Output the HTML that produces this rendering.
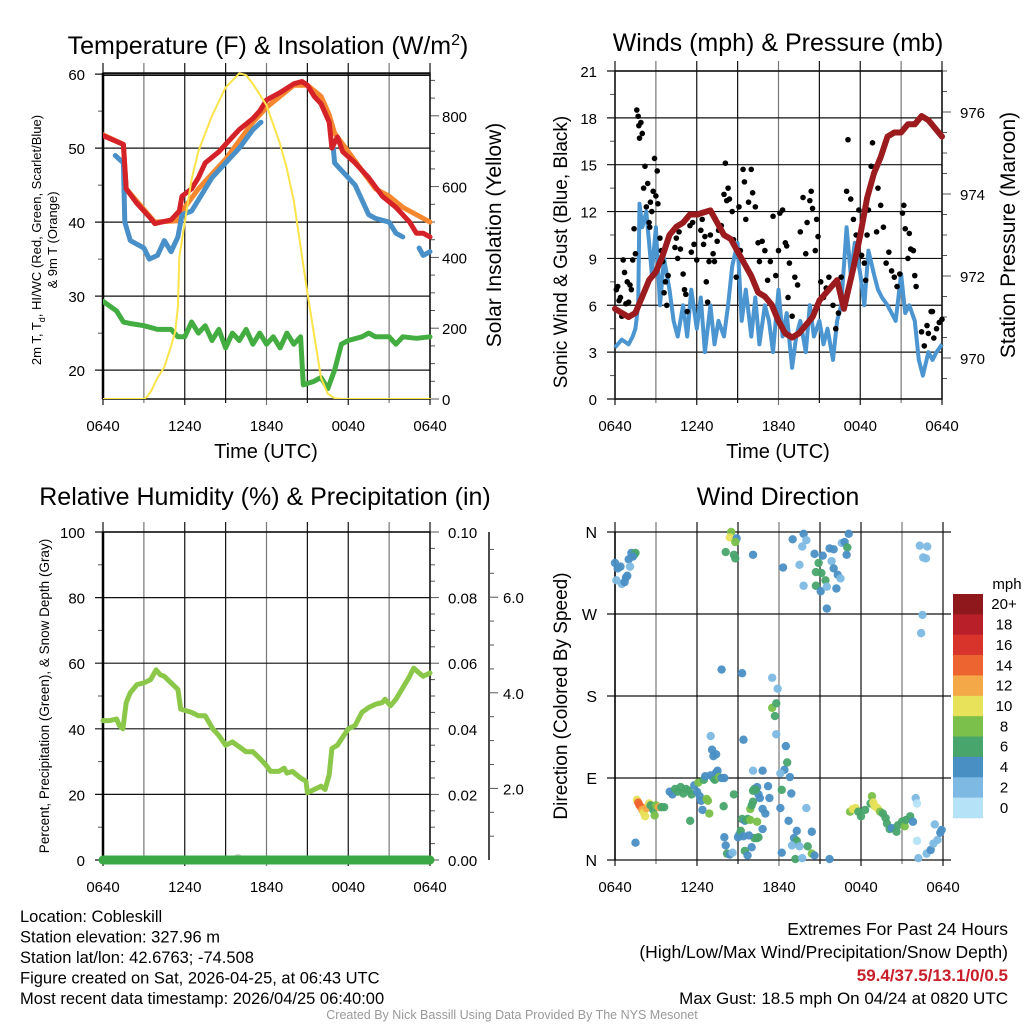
<!DOCTYPE html>
<html><head><meta charset="utf-8"><style>
html,body{margin:0;padding:0;background:#fff}
svg{display:block;font-family:"Liberation Sans",sans-serif}
</style></head><body>
<svg id="c" width="1024" height="1024" viewBox="0 0 1024 1024"></svg>
<script>
// ---------- DATA ----------
const xTickLabels = ["0640","1240","1840","0040","0640"];
const tempHours = [0,1.5,1.7,2.5,3.5,3.8,5,5.6,5.8,6.5,7,7.5,8.5,9.5,10,11,11.5,12,13,14,14.6,15,15.5,16,16.6,16.8,17.2,17.6,18.5,19.5,20.5,21.5,22.5,23,23.5,24];
const redTemp = [51.7,50.5,44.5,42.5,40.5,39.8,40.3,41.5,43.5,44.5,46,48,49.5,51.5,52.5,54,55,56.5,57.5,58.7,59,58.5,57,56,53.5,50,51.5,49.5,48,46,43.5,42,40,38.5,38.5,38];
const orangeHours = [0,1.5,1.7,3.8,5.5,6,7,8,9,10,11,12,13,14,15,16,16.6,17,18,19,20,21,22,23,24];
const orangeTemp = [51.8,50.5,44.5,40,40.2,42,44.5,46.5,48.5,51,53.5,55.5,57,58.5,58.5,57,54.5,52,49.5,47,44.5,43.5,42,41,40];
const blueHours = [0.9,1.5,1.6,2,3,3.4,4,4.5,5,5.5,5.8,6.5,7,8,9,10,11,11.6,11.7,16.9,17,17.5,18.5,19.5,20,21,21.5,22,22.1,23.2,23.5,24];
const blueTemp = [49,48,40,37.5,36.5,35,35.5,37.5,36,38,41,41.5,43,46,48,50,52.5,53.5,null,50,48,47,45,41,40.5,40,38.5,38,null,36.5,35.5,36];
const dewHours = [0,1,1.5,2,3,4,5,5.5,6,6.5,7,7.5,8,8.5,9,9.5,10,10.5,11,11.5,12,12.5,13,13.5,14,14.5,14.7,15.5,16,16.5,17,17.5,18,19,19.5,20,21,21.5,22,23,24];
const dewPoint = [29.3,28,26.5,26.3,26,25.5,25.5,24.5,24.5,26.5,25,26,24,25.5,23,25,24,25.5,23.5,25,23.5,24.5,23,25,23.5,24.5,18,18.5,19,17.5,20,23.5,24,24.5,25,24.5,24.5,23.5,24.5,24.3,24.5];
const solarHours = [0,3,3.2,3.5,4,4.5,5,5.3,5.5,5.6,6,6.5,7,8,9,10,10.5,11,12,13,13.5,14,14.5,15,15.5,16,16.5,17,17.5,24];
const solarRad = [0,0,5,20,60,90,150,190,260,400,500,620,700,800,880,920,915,890,830,720,650,560,430,300,180,60,15,2,0,0];
const presHours = [0,0.5,1,1.5,2,2.5,3,3.5,4,4.5,5,5.5,6,7,7.5,8,8.5,9,9.5,10,10.5,11,11.5,12,12.5,13,13.5,14,14.5,15,16.3,16.8,17.5,18,18.5,19,19.5,20,20.5,21,21.5,22,22.5,23,23.5,24];
const pressure = [971.2,971.1,971.0,971.1,971.5,971.9,972.1,972.5,973.0,973.2,973.3,973.5,973.5,973.6,973.3,973.0,972.9,972.6,972.3,972.0,971.6,971.5,971.3,970.9,970.6,970.5,970.6,970.8,971.0,971.4,971.9,971.2,972.2,973.0,973.9,974.5,974.9,975.4,975.5,975.5,975.7,975.7,975.9,975.8,975.6,975.4];
const windHours = [0,0.5,1,1.3,1.5,1.7,1.8,2,2.3,2.5,2.7,3,3.3,3.6,4,4.3,4.6,5,5.3,5.6,6,6.3,6.6,7,7.3,7.6,8,8.3,8.6,9,9.3,9.6,10,10.3,10.6,11,11.3,11.6,12,12.3,12.6,13,13.3,13.6,14,14.3,14.6,15,15.3,15.6,16,16.3,16.6,17,17.3,17.6,18,18.3,18.6,19,19.3,19.6,20,20.3,20.6,21,21.3,21.6,22,22.3,22.6,23,23.3,23.6,24];
const windSpeed = [3.3,3.8,3.5,4,4.5,6,12.5,11,12,10,8,11,6,9,7,5,4,6,4,7,4.5,6.5,3,6,3.5,5,4,6,8.5,10,5,7,4,6.5,3.5,6,5,3,7,4,5.5,2,4,5,3,6,4,5,3.5,4.5,2.5,5,6,11,8,10,8,6,9.5,8,7,6.5,6,5.5,5,8,5.5,6,5,2.5,1.5,3,2.5,3,3.5];
const gustHours = [0.1,0.2,0.3,0.4,0.5,0.6,0.7,0.8,0.9,1.0,1.1,1.2,1.3,1.4,1.5,1.6,1.7,1.75,1.8,1.9,2.0,2.2,2.1,2.3,2.4,2.5,2.55,2.6,2.7,2.8,2.9,3.0,3.1,3.15,3.3,3.4,3.5,3.6,3.7,3.8,3.9,4.4,4.5,4.6,4.7,4.8,5.0,5.1,5.2,5.3,5.5,5.6,5.7,5.8,6.0,6.1,6.3,6.4,6.5,6.6,6.7,6.8,6.9,7.0,7.2,7.3,7.5,7.6,7.8,8.0,8.1,8.2,8.3,8.4,8.6,8.7,8.9,9.1,9.2,9.4,9.5,9.6,9.8,10.0,10.1,10.3,10.5,10.6,10.8,11.0,11.2,11.4,11.6,11.8,12.0,12.1,12.3,12.5,12.6,12.7,12.8,13.0,13.2,13.4,13.6,13.8,14.0,14.1,14.3,14.4,14.5,14.7,14.8,14.9,15.1,15.3,15.5,15.7,16.0,16.2,16.4,16.6,17.0,17.1,17.3,17.5,17.7,17.9,18.1,18.3,18.4,18.5,18.6,18.8,18.9,19.2,19.3,19.5,19.7,19.9,20.1,20.3,20.5,20.7,20.9,21.1,21.2,21.3,21.5,21.6,21.7,21.9,22.0,22.1,22.5,22.7,22.9,23.0,23.2,23.3,23.4,23.6,23.8,24.0];
const gustSpeed = [7,7.2,6.3,6.5,5.3,8.9,8.1,6.1,7.5,6.2,7.3,7,8.9,10.9,9.3,18.5,18.1,17.5,16.7,17.7,17,14.9,13.5,12.3,13.8,11.3,11,12.6,12,13.3,15.4,13,14.6,12.5,10.3,9.5,8.8,6.8,7.5,6,7.9,9.7,10.3,9,10.7,9.6,8,7,6.7,5.6,11.1,9.4,11.3,9.9,8.9,11.8,10.8,11.5,9.9,10.4,7.5,6.2,8.8,10.5,9.3,8.8,10.1,10.8,11.1,13.1,15.1,12.7,13.5,12.8,12,10.2,7.8,12.3,9.5,14.7,13.9,11.5,12.6,14.7,13.2,12.3,10,8.8,10.1,9.5,7.6,8.8,11.7,7.9,9.5,11.9,12.1,10,9.8,6.5,8.7,5.3,7.8,7.3,10.7,12.9,9.3,11.3,12.7,13.3,12.2,9.5,11.5,10.4,7.5,6.5,7.1,7.8,6,4.5,5.5,7.8,13.3,16.6,12.8,11.5,10.5,12.1,9.2,8.7,7.6,10.5,12.1,14.9,16.4,10.7,13.5,12.4,11,8.7,9.4,8.2,7.8,7.2,8,11.9,12.4,10.9,9,10.6,9.6,9.5,7.9,7.2,4.3,3.4,4.7,4.2,5.6,5.6,3.9,4.5,4.9,5.1];
const rhHours = [0,0.5,1,1.2,1.46,1.7,2,2.5,3,3.5,3.9,4.2,4.5,5,5.5,5.7,6.5,7,7.5,8.05,8.5,9,9.5,10,10.5,11,11.5,11.95,12.3,12.9,13.3,13.5,13.9,14.5,14.9,15,15.5,16,16.3,16.6,16.8,17.2,17.6,18,18.5,19,19.5,20,20.5,20.7,21.1,21.5,22,22.5,22.8,23.2,23.5,24];
const relHum = [42.5,42.5,43,41,40,48,51,53.5,54,55,58,56.5,56,54,52,46,45,44,44,40,38,35,36,34.5,33,33,31,29,27,27,28,26.5,27,25,24,20.5,21.5,22.5,21.5,26,34,35,37.5,40,41,45,46.5,47.5,48,49,47,49,52.5,56,58.5,57,56,57];
const precipHours = [0,24];
const precip = [0,0];
const snowHours = [9.9];
const snowDepth = [0];
const dirHours = [0,0.2,0.4,0.1,0.5,0.7,0.8,0.9,1.0,1.1,1.2,1.4,1.5,1.3,1.6,1.7,1.8,1.9,2.0,2.1,2.2,2.3,2.5,2.6,2.8,2.9,3.0,3.2,3.4,3.6,1.5,4.0,4.2,4.4,4.6,4.8,5.0,5.2,5.4,5.6,5.5,5.8,6.0,6.1,6.2,6.3,6.5,6.6,6.4,6.7,6.8,6.9,7.0,7.2,7.3,7.4,7.5,7.6,7.8,8.0,7.1,7.2,7.4,7.0,7.8,7.95,8.0,8.1,8.2,8.4,8.6,8.7,9.0,9.1,9.2,9.3,9.5,9.6,9.7,9.9,9.9,10.0,10.1,10.1,10.2,10.4,10.5,10.6,10.8,10.2,10.4,10.0,9.5,9.7,9.4,9.8,9.3,9.4,11.5,11.9,11.5,11.8,11.7,11.8,12.5,12.6,12.4,12.1,12.8,12.2,12.9,12.1,12.7,13.3,13.1,13.3,12.95,13.5,14.1,14.4,14.0,14.4,14.6,13.2,13.7,15.7,12.2,11.2,11.3,11.0,10.8,10.5,10.4,10.3,10.8,10.1,8.5,8.4,8.9,8.8,8.1,8.7,8.8,10.1,12.3,13.0,13.8,14.0,13.7,13.5,13.8,14.6,15.2,14.9,14.7,15.1,15.4,14.7,15.05,15.5,15.5,15.7,16.0,15.85,16.0,16.3,16.5,16.2,16.6,16.8,17.0,16.95,17.1,17.2,17.4,17.6,17.8,18.0,18.3,18.7,18.8,18.9,19.0,19.2,19.4,19.6,19.8,19.9,20.1,20.25,20.6,20.7,21.0,21.2,21.3,21.6,21.8,22.0,22.1,22.1,22.2,22.8,23.1,23.3,23.6,23.8,23.9,23.4,22.3,22.85,22.55,22.75,22.5,22.4];
const dirDeg = [326,320,322,307,303,305,310,312,330,322,337,335,337,333,66,63,60,58,55,52,48,57,62,60,55,49,60,58,58,58,19,75,72,78,75,80,73,78,76,72,43,82,75,85,70,65,88,92,55,67,65,51,93,90,88,96,98,91,90,90,121,114,116,136,209,59,25,16,7,6,8,72,25,28,32,45,43,44,45,44,56,60,64,76,78,80,72,68,56,24,24,14,10,5,26,27,205,132,200,188,167,172,158,138,125,107,99,95,91,77,73,57,43,32,24,21,16,15,15,31,57,7,5,1,2,1,8,81,68,51,34,25,42,77,98,98,360,354,353,349,338,335,331,335,321,352,358,351,344,324,301,336,334,326,316,315,307,301,295,300,276,342,341,328,320,313,309,298,348,349,343,335,358,53,56,57,53,48,55,62,70,63,59,57,53,51,46,40,34,35,31,38,42,37,44,48,42,68,62,21,2,7,11,18,22,30,33,39,345,344,332,331,269,249];
const dirSpeed = [4,4,4,2,2,4,4,4,4,2,4,6,6,4,10,13,13,13,12,10,10,11,10,6,6,7,8,11,6,6,4,4,4,6,6,6,6,6,6,6,6,4,4,8,4,4,6,4,4,8,8,8,4,4,6,4,4,8,4,4,4,4,4,2,4,6,4,4,6,4,2,6,4,4,6,6,4,6,6,8,8,6,6,6,6,4,4,4,4,6,6,4,6,4,4,4,4,4,2,2,8,6,6,2,4,6,4,2,4,6,4,4,4,4,4,6,2,2,6,4,2,8,4,6,2,4,4,4,4,4,4,6,8,6,4,2,8,10,4,8,6,6,6,4,4,4,4,2,2,2,2,4,4,6,6,6,6,6,4,2,4,4,4,2,4,4,2,4,2,4,6,4,4,8,10,10,6,6,6,6,8,10,10,10,8,6,6,6,6,4,6,6,6,8,6,6,4,2,0,0,2,2,4,2,2,4,4,2,2,2,2,2,2,2];
const speedBinLabels = ["20+","18","16","14","12","10","8","6","4","2","0"];
const speedBinColors = ["#8e181c","#b91f29","#d9342b","#ee6430","#f5a847","#e7e25a","#7ac04a","#48a56c","#4a8fc4","#7db9e3","#b5e2f7"];

// ---------- RENDER ----------
const NS="http://www.w3.org/2000/svg";
const svg=document.getElementById('c');
function mk(tag,attrs,parent){const e=document.createElementNS(NS,tag);for(const k in attrs)e.setAttribute(k,attrs[k]);(parent||svg).appendChild(e);return e;}
function txt(s,x,y,size,anchor,extra,parent){const t=mk('text',Object.assign({x:x,y:y,'font-size':size,'text-anchor':anchor||'middle',fill:'#000'},extra||{}),parent);t.textContent=s;return t;}
function pathFrom(hs,vs,fx,fy){let d='',pen=false;for(let i=0;i<hs.length;i++){if(vs[i]===null||vs[i]===undefined){pen=false;continue;}d+=(pen?'L':'M')+fx(hs[i]).toFixed(1)+','+fy(vs[i]).toFixed(1);pen=true;}return d;}

function panel(name,X0,X1,Y0,Y1){
  const g=mk('g',{});
  
  
  const xs=h=>X0+h*(X1-X0)/24;
  for(let i=0;i<=8;i++){const x=xs(i*3);const l=mk('line',{x1:x,x2:x,y1:Y0-10,y2:Y1+(i%2==0?6:4),stroke:(i%3==1?'#777':'#111'),'stroke-width':1.2},g);
    }
  xTickLabels.forEach((s,i)=>{const t=txt(s,xs(i*6),Y1+32,15,'middle',{},g);});
  return {g,xs};
}
function hgrid(g,X0,X1,y){mk('line',{x1:X0-8,x2:X1,y1:y,y2:y,stroke:'#111','stroke-width':1.2},g);}
function rticks(g,X,y,len){mk('line',{x1:X,x2:X+len,y1:y,y2:y,stroke:'#555','stroke-width':1},g);}

// ===== Panel 1 =====
{
 const X0=103,X1=430,Y0=73,Y1=399;
 const {g,xs}=panel('temperature-panel',X0,X1,Y0,Y1);
 const yT=v=>Y1-(v-16.1)*7.4, yS=w=>Y1-w*0.354;
 for(let v=20;v<=60;v+=10){hgrid(g,X0,X1,yT(v));const t=txt(String(v),85,yT(v)+6,15,'end',{},g);}
 for(let v=25;v<=55;v+=10)mk('line',{x1:X0-5,x2:X0,y1:yT(v),y2:yT(v),stroke:'#555'},g);
 mk('line',{x1:X0,x2:X1,y1:75.5,y2:75.5,stroke:'#111'},g);
 for(let w=0;w<=900;w+=50)rticks(g,X1,yS(w),w%200==0?9:5);
 for(let w=0;w<=800;w+=200){const t=txt(String(w),442,yS(w)+6,15,'start',{},g);}
 mk('rect',{x:X0,y:Y0,width:X1-X0,height:Y1-Y0,fill:'none',stroke:'#111','stroke-width':1.5},g);
 mk('line',{x1:X0,x2:X0,y1:Y0,y2:Y1,stroke:'#000','stroke-width':2.5},g);
 const clip=mk('clipPath',{id:'cp1'},g);mk('rect',{x:X0,y:Y0-3,width:X1-X0+3,height:Y1-Y0+3},clip);
 const sg=mk('g',{'clip-path':'url(#cp1)'},g);
 const series=[[dewHours,dewPoint,'#44ad41','dewpoint-line',yT,5],[orangeHours,orangeTemp,'#f5872f','9m-temp-line',yT,5],[blueHours,blueTemp,'#4a90c8','heat-index-windchill-line',yT,5],[tempHours,redTemp,'#d52128','2m-temp-line',yT,5],[solarHours,solarRad,'#fbe34a','solar-insolation-line',yS,2]];
 series.forEach(s=>{const p=mk('path',{d:pathFrom(s[0],s[1],xs,s[4]),fill:'none',stroke:s[2],'stroke-width':s[5],'stroke-linejoin':'round','stroke-linecap':'round'},sg);
   });
 const t1=mk('text',{x:268,y:54,'font-size':25,'text-anchor':'middle'},svg);t1.innerHTML='Temperature (F) &amp; Insolation (W/m<tspan dy="-9" font-size="16">2</tspan><tspan dy="9">)</tspan>';
 
 const xt=txt('Time (UTC)',266,458,20,'middle',{},svg);
 const yl=mk('text',{x:0,y:0,'font-size':13,'text-anchor':'middle',transform:'translate(41,240) rotate(-90)'},svg);
 yl.innerHTML='2m T, T<tspan dy="4" font-size="9">d</tspan><tspan dy="-4">, HI/WC (Red, Green, Scarlet/Blue)</tspan>';
 
 const yl2=txt('& 9m T (Orange)',0,0,13,'middle',{transform:'translate(57,240) rotate(-90)'});
 const yr=txt('Solar Insolation (Yellow)',0,0,21,'middle',{transform:'translate(501,235) rotate(-90)'});
}
// ===== Panel 2 =====
{
 const X0=615,X1=942,Y0=71,Y1=399;
 const {g,xs}=panel('winds-pressure-panel',X0,X1,Y0,Y1);
 const yW=v=>Y1-v*15.62, yP=p=>358-(p-970)*41;
 for(let v=0;v<=21;v+=3){hgrid(g,X0,X1,yW(v));const t=txt(String(v),597,yW(v)+6,15,'end',{},g);}
 for(let v=1.5;v<21;v+=3)mk('line',{x1:X0-5,x2:X0,y1:yW(v),y2:yW(v),stroke:'#555'},g);
 for(let p=969.5;p<=977;p+=0.5)rticks(g,X1,yP(p),Math.abs(p-Math.round(p/2)*2)<0.01?9:5);
 for(let p=970;p<=976;p+=2){const t=txt(String(p),960,yP(p)+6,15,'start',{},g);}
 mk('rect',{x:X0,y:Y0,width:X1-X0,height:Y1-Y0,fill:'none',stroke:'#111','stroke-width':1.5},g);
 const clip=mk('clipPath',{id:'cp2'},g);mk('rect',{x:X0-3,y:Y0-3,width:X1-X0+6,height:Y1-Y0+3},clip);
 const sg=mk('g',{'clip-path':'url(#cp2)'},g);
 const wl=mk('path',{d:pathFrom(windHours,windSpeed,xs,yW),fill:'none',stroke:'#4b95d0','stroke-width':4,'stroke-linejoin':'round'},sg);
 
 gustHours.forEach((h,i)=>{const c=mk('circle',{cx:xs(h),cy:yW(gustSpeed[i]),r:2.8,fill:'#000'},sg);
   });
 const pl=mk('path',{d:pathFrom(presHours,pressure,xs,yP),fill:'none',stroke:'#9b1b1e','stroke-width':6,'stroke-linejoin':'round','stroke-linecap':'round'},sg);
 
 const t=txt('Winds (mph) & Pressure (mb)',778,51,25,'middle',{});
 const xt=txt('Time (UTC)',778,458,20,'middle',{});
 const yl=txt('Sonic Wind & Gust (Blue, Black)',0,0,19,'middle',{transform:'translate(567,252) rotate(-90)'});
 const yr=txt('Station Pressure (Maroon)',0,0,21,'middle',{transform:'translate(1015,235) rotate(-90)'});
}
// ===== Panel 3 =====
{
 const X0=103,X1=430,Y0=532,Y1=860;
 const {g,xs}=panel('humidity-panel',X0,X1,Y0,Y1);
 const yR=v=>Y1-v*3.28, yPr=p=>Y1-p*3280;
 for(let v=0;v<=100;v+=20){hgrid(g,X0,X1,yR(v));const t=txt(String(v),85,yR(v)+6,15,'end',{},g);}
 for(let v=10;v<100;v+=20)mk('line',{x1:X0-5,x2:X0,y1:yR(v),y2:yR(v),stroke:'#555'},g);
 for(let p=0;p<=0.1001;p+=0.005)rticks(g,X1,yPr(p),Math.round(p*1000)%20==0?9:5);
 for(let p=0;p<=0.1001;p+=0.02){const t=txt(p.toFixed(2),448,yPr(p)+6,15,'start',{},g);}
 mk('line',{x1:489,x2:489,y1:Y0,y2:Y1,stroke:'#111','stroke-width':1.5},g);
 const ySn=s=>884-s*47.8;
 for(let s=1;s<=7;s+=0.5){const y=ySn(s);if(y>=Y0&&y<=Y1)mk('line',{x1:489,x2:Math.abs(s%2)<0.01?498:494,y1:y,y2:y,stroke:'#555'},g);}
 [2,4,6].forEach(s=>{const t=txt(s.toFixed(1),503,ySn(s)+6,15,'start',{},g);});
 mk('rect',{x:X0,y:Y0,width:X1-X0,height:Y1-Y0,fill:'none',stroke:'#111','stroke-width':1.5},g);
 mk('line',{x1:X0,x2:X0,y1:Y0,y2:Y1,stroke:'#000','stroke-width':2.5},g);
 snowHours.forEach((h,i)=>{const c=mk('circle',{cx:xs(h),cy:yR(snowDepth[i])-1,r:5,fill:'#ccc'},g);});
 const pp=mk('path',{d:pathFrom(precipHours,precip,xs,yPr),fill:'none',stroke:'#3aa845','stroke-width':9,'stroke-linecap':'round'},g);
 
 const rl=mk('path',{d:pathFrom(rhHours,relHum,xs,yR),fill:'none',stroke:'#8bc84a','stroke-width':5,'stroke-linejoin':'round','stroke-linecap':'round'},g);
 
 const t=txt('Relative Humidity (%) & Precipitation (in)',265,505,25,'middle',{});
 const yl=txt('Percent, Precipitation (Green), & Snow Depth (Gray)',0,0,13.5,'middle',{transform:'translate(49,696) rotate(-90)'});
}
// ===== Panel 4 =====
{
 const X0=615,X1=943,Y0=532,Y1=860;
 const {g,xs}=panel('wind-direction-panel',X0,X1,Y0,Y1);
 const yD=d=>Y1-d*328/360;
 const dl=["N","E","S","W","N"];
 for(let i=0;i<=4;i++){const y=yD(i*90);hgrid(g,X0,X1+8,y);const t=txt(dl[i],597,y+6,16,'end',{},g);}
 mk('line',{x1:X0,x2:X0,y1:Y0,y2:Y1,stroke:'#000','stroke-width':1.5},g);
 dirHours.forEach((h,i)=>{const b=Math.max(0,Math.min(10,Math.round(dirSpeed[i]/2)));
   const c=mk('circle',{cx:xs(h),cy:yD(dirDeg[i]),r:4.2,fill:speedBinColors[10-b],'fill-opacity':0.95},g);
   });
 const t=txt('Wind Direction',778,505,25,'middle',{});
 const yl=txt('Direction (Colored By Speed)',0,0,19,'middle',{transform:'translate(567,696) rotate(-90)'});
 const lg=mk('g',{});
 const bh=224/11;
 speedBinLabels.forEach((s,i)=>{const r=mk('rect',{x:953,y:594+i*bh,width:30,height:bh+0.3,fill:speedBinColors[i]},lg);
   const tl=txt(s,1004,594+i*bh+bh/2+5,15,'middle',{},lg);});
 const u=txt('mph',1007,589,15,'middle',{},lg);
}
// ===== Footer =====
{
 const f=mk('g',{});
 ["Location: Cobleskill","Station elevation: 327.96 m","Station lat/lon: 42.6763; -74.508","Figure created on Sat, 2026-04-25, at 06:43 UTC","Most recent data timestamp: 2026/04/25 06:40:00"].forEach((s,i)=>{
   const t=txt(s,20,922+i*20.5,16.5,'start',{},f);});
 const e=mk('g',{});
 let t=txt('Extremes For Past 24 Hours',1008,935,17.5,'end',{},e);
 t=txt('(High/Low/Max Wind/Precipitation/Snow Depth)',1008,958,17.5,'end',{},e);
 t=txt('59.4/37.5/13.1/0/0.5',1008,981,17,'end',{fill:'#c8202a','font-weight':'bold'},e);
 t=txt('Max Gust: 18.5 mph On 04/24 at 0820 UTC',1008,1004,17,'end',{},e);
 t=txt('Created By Nick Bassill Using Data Provided By The NYS Mesonet',512,1019,12.5,'middle',{fill:'#999'});
}
</script>
</body></html>
